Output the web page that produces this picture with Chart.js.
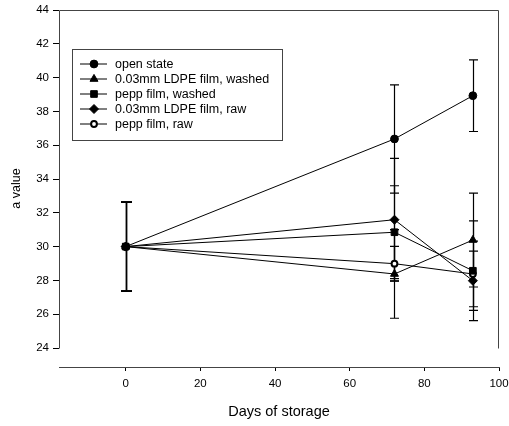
<!DOCTYPE html>
<html>
<head>
<meta charset="utf-8">
<script src="https://cdn.jsdelivr.net/npm/chart.js@4/dist/chart.umd.min.js"></script>
<style>
  html, body { margin: 0; padding: 0; background: #fff; }
</style>
</head>
<body>
<canvas id="grafico" width="509" height="426"></canvas>
<script>
// dados
const days = [0, 72, 93];
const seriesNames = ['open state', '0.03mm LDPE film, washed', 'pepp film, washed', '0.03mm LDPE film, raw', 'pepp film, raw'];
const openState = [30.0, 36.37, 38.93];
const ldpeWashed = [30.0, 28.38, 30.39];
const peppWashed = [30.0, 30.85, 28.57];
const ldpeRaw = [30.0, 31.59, 27.98];
const peppRaw = [30.0, 28.99, 28.38];
const errOpenState = [2.63, 3.2, 2.12];
const errLdpeWashed = [2.63, 2.62, 2.78];
const errPeppWashed = [2.63, 2.75, 2.95];
const errLdpeRaw = [2.63, 3.63, 1.75];
const errPeppRaw = [2.63, 1.02, 1.94];
const xTicks = [0, 20, 40, 60, 80, 100];
const yTicks = [24, 26, 28, 30, 32, 34, 36, 38, 40, 42, 44];

const FONT = "'Liberation Sans', Arial, sans-serif";

function criarDataset(label, valores, erros, estilo, raio, fundo, borda) {
    return {
        label,
        data: days.map((d, i) => ({ x: d, y: valores[i] })),
        erros,
        borderColor: '#000',
        borderWidth: 1,
        pointStyle: estilo,
        pointRadius: raio,
        pointBackgroundColor: fundo,
        pointBorderColor: '#000',
        pointBorderWidth: borda,
        tension: 0
    };
}

const datasets = [
    criarDataset(seriesNames[0], openState, errOpenState, 'circle', 3.9, '#000', 1),
    criarDataset(seriesNames[1], ldpeWashed, errLdpeWashed, 'triangle', 4.6, '#000', 1),
    criarDataset(seriesNames[2], peppWashed, errPeppWashed, 'rect', 4.7, '#000', 1),
    criarDataset(seriesNames[3], ldpeRaw, errLdpeRaw, 'rectRot', 4.5, '#000', 1),
    criarDataset(seriesNames[4], peppRaw, errPeppRaw, 'circle', 2.9, '#fff', 2)
];

// moldura: eixo esquerdo, topo e direita (estilo SigmaPlot)
const moldura = {
    id: 'moldura',
    beforeDatasetsDraw(chart) {
        const { ctx, chartArea, scales: { y } } = chart;
        const yTop = Math.round(y.getPixelForValue(yTicks[yTicks.length - 1])) + 0.5;
        const yBot = Math.round(y.getPixelForValue(yTicks[0])) + 0.5;
        const l = Math.round(chartArea.left) + 0.5, r = Math.round(chartArea.right) - 0.5;
        ctx.save();
        ctx.strokeStyle = '#444';
        ctx.lineWidth = 1;
        ctx.beginPath();
        ctx.moveTo(l, yBot);
        ctx.lineTo(l, yTop);
        ctx.lineTo(r, yTop);
        ctx.lineTo(r, yBot);
        ctx.stroke();
        ctx.restore();
    }
};

// barras de erro
const barrasErro = {
    id: 'barrasErro',
    beforeDatasetsDraw(chart) {
        const { ctx, scales: { x, y } } = chart;
        ctx.save();
        ctx.strokeStyle = '#000';
        ctx.lineWidth = 1.2;
        chart.data.datasets.forEach(ds => {
            ds.data.forEach((p, i) => {
                const e = ds.erros[i];
                const px = Math.round(x.getPixelForValue(p.x)) + 0.5;
                const hi = y.getPixelForValue(p.y + e);
                const lo = y.getPixelForValue(p.y - e);
                const cap = i === 0 ? 5.5 : 4.5;
                ctx.beginPath();
                ctx.moveTo(px, hi); ctx.lineTo(px, lo);
                ctx.moveTo(px - cap, hi); ctx.lineTo(px + cap, hi);
                ctx.moveTo(px - cap, lo); ctx.lineTo(px + cap, lo);
                ctx.stroke();
            });
        });
        ctx.restore();
    }
};

// legenda dentro da área do gráfico
const legenda = {
    id: 'legenda',
    afterDraw(chart) {
        const { ctx, chartArea } = chart;
        const left = chartArea.left + 13, top = chartArea.top + 39;
        const w = 210, h = 91;
        ctx.save();
        ctx.strokeStyle = '#444';
        ctx.lineWidth = 1;
        ctx.fillStyle = '#fff';
        ctx.fillRect(left, top, w, h);
        ctx.strokeRect(left + 0.5, top + 0.5, w, h);
        chart.data.datasets.forEach((ds, i) => {
            const cy = top + 15 + i * 15;
            ctx.strokeStyle = '#000';
            ctx.lineWidth = 1;
            ctx.beginPath();
            ctx.moveTo(left + 8, cy);
            ctx.lineTo(left + 35, cy);
            ctx.stroke();
            ctx.fillStyle = ds.pointBackgroundColor;
            ctx.strokeStyle = '#000';
            ctx.lineWidth = ds.pointBorderWidth;
            Chart.helpers.drawPoint(ctx, { pointStyle: ds.pointStyle, radius: ds.pointRadius, rotation: 0, borderWidth: ds.pointBorderWidth }, left + 22, cy);
            ctx.fillStyle = '#000';
            ctx.font = '12.5px ' + FONT;
            ctx.textBaseline = 'middle';
            ctx.textAlign = 'left';
            ctx.fillText(ds.label, left + 43, cy + 1);
        });
        ctx.restore();
    }
};

const ctx = document.getElementById('grafico').getContext('2d');

new Chart(ctx, {
    type: 'line',
    data: { datasets },
    plugins: [moldura, barrasErro, legenda],
    options: {
        responsive: false,
        animation: false,
        layout: { padding: { top: 10, right: 10, left: 0, bottom: 0 } },
        plugins: {
            legend: { display: false },
            tooltip: { enabled: false }
        },
        scales: {
            x: {
                type: 'linear',
                min: -17.87,
                max: 100,
                afterBuildTicks: s => { s.ticks = xTicks.map(v => ({ value: v })); },
                afterFit: s => { s.height = 59; s.paddingLeft = 0; s.paddingRight = 0; },
                grid: { display: true, drawOnChartArea: false, drawTicks: true, tickLength: 4, color: '#000' },
                border: { display: true, color: '#444', width: 1 },
                ticks: { font: { family: FONT, size: 11.5 }, color: '#000', padding: 6, maxRotation: 0, autoSkip: false },
                title: { display: true, text: 'Days of storage', color: '#000', font: { family: FONT, size: 14.5 }, padding: { bottom: 5 } }
            },
            y: {
                type: 'linear',
                min: 22.876,
                max: 44,
                afterBuildTicks: s => { s.ticks = yTicks.map(v => ({ value: v })); },
                afterFit: s => { s.width = 59; s.paddingTop = 0; s.paddingBottom = 0; },
                grid: { display: true, drawOnChartArea: false, drawTicks: true, tickLength: 6, color: '#000' },
                border: { display: false },
                ticks: { font: { family: FONT, size: 11.5 }, color: '#000', padding: 4, autoSkip: false },
                title: { display: true, text: 'a value', color: '#000', font: { family: FONT, size: 12.5 }, padding: { top: 9 } }
            }
        }
    }
});
</script>
</body>
</html>
